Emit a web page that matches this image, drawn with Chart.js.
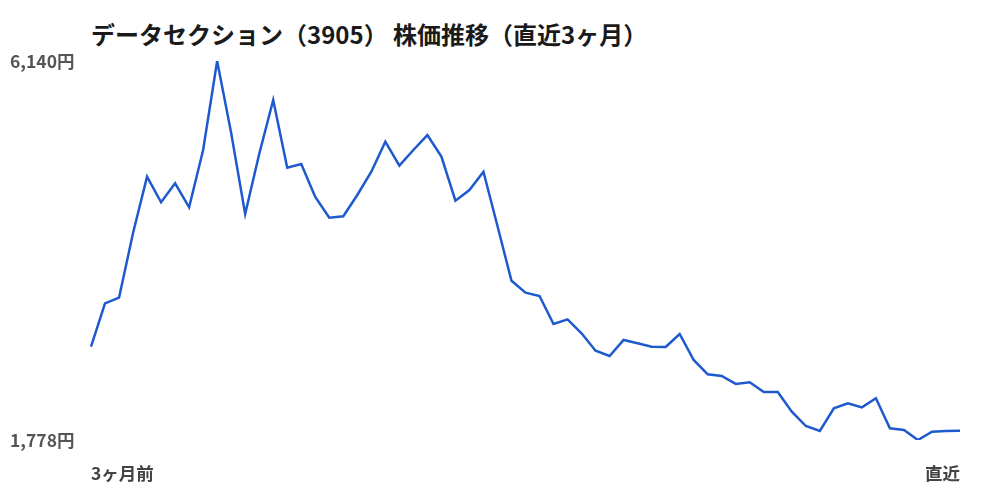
<!DOCTYPE html>
<html lang="ja">
<head>
<meta charset="utf-8">
<title>データセクション（3905） 株価推移</title>
<script src="https://cdn.jsdelivr.net/npm/chart.js@4.4.1/dist/chart.umd.min.js"></script>
<style>
  html, body { margin: 0; padding: 0; background: #fff; }
  .wrap { position: relative; width: 1000px; height: 500px; }
  h1 {
    position: absolute; left: 91px; top: 17px; margin: 0;
    font: bold 24px "Noto Sans CJK JP", "Noto Sans", sans-serif;
    color: #1a1a1a; line-height: 34px;
  }
  canvas { position: absolute; left: 0; top: 0; }
</style>
</head>
<body>
<div class="wrap">
  <h1>データセクション（3905） 株価推移（直近3ヶ月）</h1>
  <canvas id="myChart" width="1000" height="500"></canvas>
</div>
<script>
// 終値（円）、3ヶ月前 → 直近
const prices = [
  2852, 3351, 3416, 4160, 4808, 4514, 4732, 4456, 5116, 6140,
  5311, 4379, 5070, 5691, 4912, 4954, 4575, 4336, 4353, 4598,
  4866, 5211, 4937, 5116, 5288, 5039, 4532, 4655, 4866, 4241,
  3611, 3473, 3435, 3113, 3167, 3006, 2806, 2745, 2929, 2891,
  2852, 2848, 2998, 2699, 2534, 2515, 2423, 2442, 2330, 2330,
  2104, 1939, 1882, 2143, 2200, 2154, 2258, 1913, 1893, 1778,
  1874, 1882, 1884
];
const days = prices.map((_, i) => i);
const xTickLabels = ['3ヶ月前', '直近'];
const yTicks = [1778, 6140];

const font = "'Noto Sans CJK JP', 'Noto Sans', sans-serif";

const ctx = document.getElementById('myChart').getContext('2d');
const myChart = new Chart(ctx, {
  type: 'line',
  data: {
    labels: days,
    datasets: [{
      data: prices,
      borderColor: '#1e5acd',
      borderWidth: 2.5,
      pointRadius: 0,
      tension: 0,
      fill: false
    }]
  },
  options: {
    responsive: false,
    animation: false,
    layout: { padding: { left: 10, right: 40, top: 61, bottom: 0 } },
    plugins: {
      legend: { display: false },
      tooltip: { enabled: false }
    },
    scales: {
      x: {
        grid: { display: false, drawTicks: false },
        border: { display: false },
        afterFit: s => { s.height = 60; },
        ticks: {
          autoSkip: false,
          maxRotation: 0,
          align: 'inner',
          padding: 23,
          color: '#444',
          font: { family: font, size: 17.5, weight: 'bold' },
          callback: (v, i) => i === 0 ? xTickLabels[0] : (i === days.length - 1 ? xTickLabels[1] : '')
        }
      },
      y: {
        min: yTicks[0],
        max: yTicks[1],
        grid: { display: false, drawTicks: false },
        border: { display: false },
        afterFit: s => { s.width = 81; },
        afterBuildTicks: s => { s.ticks = yTicks.map(v => ({ value: v })); },
        ticks: {
          crossAlign: 'far',
          color: '#555',
          font: { family: font, size: 17.5, weight: 'bold' },
          callback: v => v.toLocaleString('ja-JP') + '円'
        }
      }
    }
  }
});
</script>
</body>
</html>
